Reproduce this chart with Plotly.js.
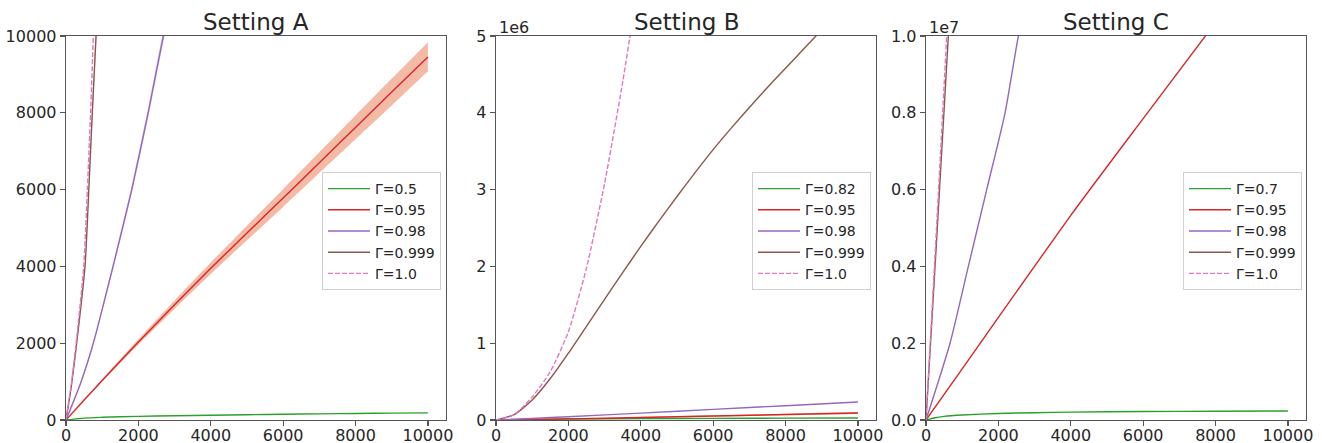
<!DOCTYPE html>
<html>
<head>
<meta charset="utf-8">
<script src="https://cdn.plot.ly/plotly-3.0.1.min.js"></script>
<style>html,body{margin:0;padding:0;background:#fff;}#chart{width:1322px;height:443px;}</style>
</head>
<body>
<div id="chart"></div>
<script>
// ---------- Data ----------
const titles = ["Setting A", "Setting B", "Setting C"];
const xTickVals = [0, 2000, 4000, 6000, 8000, 10000];
const xTickText = ["0", "2000", "4000", "6000", "8000", "10000"];
const yTickValsA = [0, 2000, 4000, 6000, 8000, 10000];
const yTickTextA = ["0", "2000", "4000", "6000", "8000", "10000"];
const yTickValsB = [0, 1e6, 2e6, 3e6, 4e6, 5e6];
const yTickTextB = ["0", "1", "2", "3", "4", "5"];
const yTickValsC = [0, 2e6, 4e6, 6e6, 8e6, 1e7];
const yTickTextC = ["0.0", "0.2", "0.4", "0.6", "0.8", "1.0"];
const offsetTexts = ["", "1e6", "1e7"];
const labelsA = ["Γ=0.5", "Γ=0.95", "Γ=0.98", "Γ=0.999", "Γ=1.0"];
const labelsB = ["Γ=0.82", "Γ=0.95", "Γ=0.98", "Γ=0.999", "Γ=1.0"];
const labelsC = ["Γ=0.7", "Γ=0.95", "Γ=0.98", "Γ=0.999", "Γ=1.0"];

// Setting A
const xA = [0, 500, 1000, 2000, 3000, 4000, 5000, 6000, 7000, 8000, 9000, 10000];
const greenA = [0, 50, 70, 95, 110, 125, 138, 150, 160, 170, 178, 185];
const redA = [0, 520, 1030, 2030, 3000, 3950, 4870, 5780, 6700, 7620, 8540, 9450];
const redAUp = [0, 530, 1060, 2100, 3110, 4100, 5060, 6010, 6970, 7930, 8890, 9840];
const redALo = [0, 510, 1000, 1960, 2890, 3800, 4680, 5550, 6430, 7310, 8190, 9080];
const xPurpleA = [0, 400, 755, 1300, 1817, 2270, 2690, 2900];
const purpleA = [0, 950, 2000, 4000, 6000, 8000, 10000, 10900];
const purpleAUp = [0, 980, 2050, 4080, 6110, 8140, 10170, 11100];
const purpleALo = [0, 920, 1950, 3920, 5890, 7860, 9830, 10700];
const xBrownA = [0, 150, 295, 525, 630, 727, 830, 900];
const brownA = [0, 900, 2000, 4000, 6000, 8000, 10000, 11400];
const brownAUp = [0, 930, 2060, 4120, 6180, 8240, 10300, 11740];
const brownALo = [0, 870, 1940, 3880, 5820, 7760, 9700, 11060];
const xPinkA = [0, 150, 280, 490, 590, 680, 755, 820];
const pinkA = [0, 950, 2000, 4000, 6000, 8000, 10000, 11800];

// Setting B
const xB = [0, 1000, 2000, 4000, 6000, 8000, 10000];
const greenB = [0, 8e3, 13e3, 18e3, 21e3, 24e3, 26e3];
const redB = [0, 6e3, 14e3, 33e3, 52e3, 72e3, 91e3];
const redBUp = [0, 7e3, 17e3, 39e3, 61e3, 83e3, 104e3];
const redBLo = [0, 5e3, 11e3, 27e3, 43e3, 61e3, 78e3];
const purpleB = [0, 20e3, 43e3, 90e3, 138e3, 186e3, 234e3];
const xBrownB = [0, 500, 1000, 1500, 2000, 2500, 3000, 3500, 4000, 4500, 5000, 5500, 6000, 6500, 7000, 7500, 8000, 8500, 9000];
const brownB = [0, 0.07e6, 0.26e6, 0.54e6, 0.87e6, 1.22e6, 1.57e6, 1.92e6, 2.26e6, 2.59e6, 2.91e6, 3.22e6, 3.52e6, 3.8e6, 4.07e6, 4.33e6, 4.58e6, 4.83e6, 5.08e6];
const xPinkB = [0, 500, 1000, 1500, 2000, 2500, 3000, 3500, 4000];
const pinkB = [0, 0.07e6, 0.3e6, 0.63e6, 1.15e6, 1.98e6, 3.08e6, 4.4e6, 5.9e6];

// Setting C
const xGreenC = [0, 250, 500, 1000, 2000, 3000, 4000, 6000, 8000, 10000];
const greenC = [0, 60e3, 95e3, 130e3, 170e3, 190e3, 205e3, 220e3, 228e3, 234e3];
const xRedC = [0, 1000, 2000, 4000, 6000, 8000];
const redC = [0, 1.33e6, 2.67e6, 5.33e6, 7.85e6, 10.35e6];
const xPurpleC = [0, 664, 1170, 1678, 2185, 2553, 2800];
const purpleC = [0, 2e6, 4e6, 6e6, 8e6, 10e6, 11e6];
const xBrownC = [0, 300, 617, 700];
const brownC = [0, 4.8e6, 10e6, 11.3e6];
const xPinkC = [0, 290, 572, 650];
const pinkC = [0, 5e6, 10e6, 11.4e6];

// ---------- Styles ----------
const COL = {green: "#2ca02c", red: "#d62728", purple: "#9467bd", brown: "#8c564b", pink: "#e377c2"};
const BAND = {red: "rgba(236,140,105,0.6)", purple: "rgba(148,103,189,0.3)", brown: "rgba(140,86,75,0.25)"};
const FONT = "DejaVu Sans, sans-serif";
const TXT = "#262626";
const SPINE = "#555555";
const SMOOTH = 0.6;

const traces = [];
function band(x, lo, hi, color, ax) {
  traces.push({x: x, y: lo, xaxis: ax.x, yaxis: ax.y, mode: "lines", line: {width: 0, color: color, shape: "spline", smoothing: SMOOTH}, showlegend: false, hoverinfo: "skip"});
  traces.push({x: x, y: hi, xaxis: ax.x, yaxis: ax.y, mode: "lines", line: {width: 0, color: color, shape: "spline", smoothing: SMOOTH}, fill: "tonexty", fillcolor: color, showlegend: false, hoverinfo: "skip"});
}
function line(x, y, color, name, ax, legend, dash) {
  traces.push({x: x, y: y, xaxis: ax.x, yaxis: ax.y, mode: "lines", name: name, legend: legend,
    line: {color: color, width: 1.4, dash: dash || "solid", shape: "spline", smoothing: SMOOTH}});
}
const axA = {x: "x", y: "y"}, axB = {x: "x2", y: "y2"}, axC = {x: "x3", y: "y3"};

// A
band(xA, redALo, redAUp, BAND.red, axA);
band(xPurpleA, purpleALo, purpleAUp, BAND.purple, axA);
band(xBrownA, brownALo, brownAUp, BAND.brown, axA);
line(xA, greenA, COL.green, labelsA[0], axA, "legend");
line(xA, redA, COL.red, labelsA[1], axA, "legend");
line(xPurpleA, purpleA, COL.purple, labelsA[2], axA, "legend");
line(xBrownA, brownA, COL.brown, labelsA[3], axA, "legend");
line(xPinkA, pinkA, COL.pink, labelsA[4], axA, "legend", "5px,2px");
// B
band(xB, redBLo, redBUp, BAND.red, axB);
line(xB, greenB, COL.green, labelsB[0], axB, "legend2");
line(xB, redB, COL.red, labelsB[1], axB, "legend2");
line(xB, purpleB, COL.purple, labelsB[2], axB, "legend2");
line(xBrownB, brownB, COL.brown, labelsB[3], axB, "legend2");
line(xPinkB, pinkB, COL.pink, labelsB[4], axB, "legend2", "5px,2px");
// C
line(xGreenC, greenC, COL.green, labelsC[0], axC, "legend3");
line(xRedC, redC, COL.red, labelsC[1], axC, "legend3");
line(xPurpleC, purpleC, COL.purple, labelsC[2], axC, "legend3");
line(xBrownC, brownC, COL.brown, labelsC[3], axC, "legend3");
line(xPinkC, pinkC, COL.pink, labelsC[4], axC, "legend3", "5px,2px");

// ---------- Layout ----------
const W = 1322, H = 443;
const plotL = [66, 496, 926], plotW = 380, plotTop = 36, plotBot = 420;
function xaxis(i) {
  return {domain: [plotL[i] / W, (plotL[i] + plotW) / W], range: [0, 10500], anchor: ["y", "y2", "y3"][i],
    tickvals: xTickVals, ticktext: xTickText, showline: true, mirror: true, linecolor: SPINE, linewidth: 1.3,
    ticks: "outside", ticklen: 5, tickwidth: 1.2, tickcolor: SPINE, showgrid: false, zeroline: false,
    ticklabelstandoff: -5,
    tickfont: {family: FONT, size: 16, color: TXT}, automargin: false, fixedrange: true};
}
function yaxis(i, range, tv, tt) {
  return {domain: [(H - plotBot) / H, (H - plotTop) / H], range: range, anchor: ["x", "x2", "x3"][i],
    tickvals: tv, ticktext: tt, showline: true, mirror: true, linecolor: SPINE, linewidth: 1.3,
    ticks: "outside", ticklen: 5, tickwidth: 1.2, tickcolor: SPINE, showgrid: false, zeroline: false,
    tickfont: {family: FONT, size: 16, color: TXT}, automargin: false, fixedrange: true};
}
function legend(i) {
  return {x: [322, 752, 1183][i] / W, y: (H - 172) / H, xanchor: "left", yanchor: "top",
    bgcolor: "rgba(255,255,255,0.9)", bordercolor: "#d0d0d0", borderwidth: 1, traceorder: "normal",
    font: {family: FONT, size: 14, color: TXT}, itemwidth: 42, tracegroupgap: 0};
}
const annotations = [];
for (let i = 0; i < 3; i++) {
  annotations.push({text: titles[i], xref: "paper", yref: "paper", x: (plotL[i] + plotW / 2) / W, y: (H - 22) / H,
    xanchor: "center", yanchor: "middle", showarrow: false, font: {family: FONT, size: 23, color: TXT}});
  if (offsetTexts[i]) {
    annotations.push({text: offsetTexts[i], xref: "paper", yref: "paper", x: (plotL[i] + 1) / W, y: (H - 28) / H,
      xanchor: "left", yanchor: "middle", showarrow: false, font: {family: FONT, size: 16, color: TXT}});
  }
}
const layout = {
  width: W, height: H, margin: {l: 0, r: 0, t: 0, b: 0}, paper_bgcolor: "#fff", plot_bgcolor: "#fff",
  showlegend: true,
  xaxis: xaxis(0), xaxis2: xaxis(1), xaxis3: xaxis(2),
  yaxis: yaxis(0, [0, 10000], yTickValsA, yTickTextA),
  yaxis2: yaxis(1, [0, 5e6], yTickValsB, yTickTextB),
  yaxis3: yaxis(2, [0, 1e7], yTickValsC, yTickTextC),
  legend: legend(0), legend2: legend(1), legend3: legend(2),
  annotations: annotations
};
Plotly.newPlot("chart", traces, layout, {displayModeBar: false, staticPlot: true});
</script>
</body>
</html>
